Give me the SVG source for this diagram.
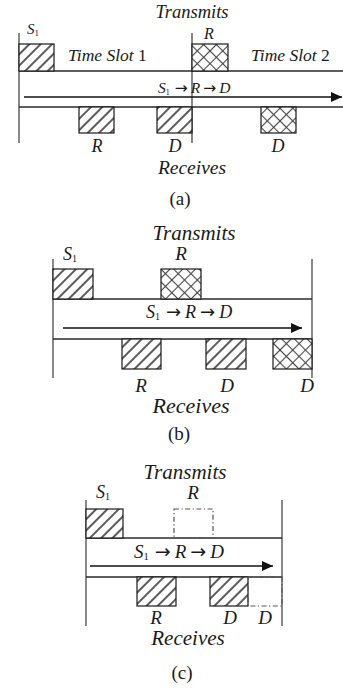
<svg xmlns="http://www.w3.org/2000/svg" width="343" height="688" viewBox="0 0 343 688">
  <style>
    .bg { fill: #ffffff; }
    .ln { stroke: #2a2a2a; stroke-width: 1.3; fill: none; }
    .vl { stroke: #3a3a3a; stroke-width: 1.2; fill: none; }
    .box { stroke: #1a1a1a; stroke-width: 1.2; }
    .hatch { fill: url(#hatch); }
    .cross { fill: url(#cross); }
    .dd { fill: none; stroke: #555; stroke-width: 1.2; stroke-dasharray: 5 2.5 1.2 2.5; }
    .it { font-family: "Liberation Serif", "Times New Roman", serif; font-style: italic; fill: #1a1a1a; }
    .rm { font-family: "Liberation Serif", "Times New Roman", serif; fill: #1a1a1a; }
    .sym { font-family: "DejaVu Sans", sans-serif; font-style: normal; }
    .arr { stroke: #111; stroke-width: 1.4; fill: none; }
  </style>
  <defs>
    <pattern id="hatch" patternUnits="userSpaceOnUse" width="8" height="8" patternTransform="rotate(45)">
      <rect width="8" height="8" fill="#ffffff"/>
      <line x1="4" y1="0" x2="4" y2="8" stroke="#333" stroke-width="1.6"/>
    </pattern>
    <pattern id="cross" patternUnits="userSpaceOnUse" width="9" height="9" patternTransform="rotate(45)">
      <rect width="9" height="9" fill="#ffffff"/>
      <line x1="4.5" y1="0" x2="4.5" y2="9" stroke="#444" stroke-width="1.1"/>
      <line x1="0" y1="4.5" x2="9" y2="4.5" stroke="#444" stroke-width="1.1"/>
    </pattern>
    <marker id="head" markerUnits="userSpaceOnUse" markerWidth="12" markerHeight="12" refX="11" refY="5" orient="auto">
      <path d="M0,0 L11,5 L0,10 Z" fill="#111"/>
    </marker>
  </defs>
  <rect class="bg" width="343" height="688"/>

  <!-- Panel (a): two time slots -->
  <g id="panel-a">
    <g id="a-frame">
      <line class="vl" x1="19" y1="33" x2="19" y2="143"/>
      <line class="vl" x1="192" y1="33" x2="192" y2="143"/>
      <line class="ln" x1="19" y1="71" x2="343" y2="71"/>
      <line class="ln" x1="19" y1="107" x2="343" y2="107"/>
    </g>
    <g id="a-s1-tx">
      <rect class="box hatch" x="19" y="44" width="35" height="27"/>
      <text class="it" x="27" y="34" font-size="15">S<tspan font-size="9" font-style="normal" dy="2">1</tspan></text>
    </g>
    <g id="a-r-tx">
      <rect class="box cross" x="192" y="44" width="36" height="27"/>
      <text class="it" x="209" y="39" font-size="16" text-anchor="middle">R</text>
    </g>
    <g id="a-r-rx">
      <rect class="box hatch" x="79" y="107" width="35" height="26"/>
      <text class="it" x="97" y="152" font-size="18" text-anchor="middle">R</text>
    </g>
    <g id="a-d-rx1">
      <rect class="box hatch" x="157" y="107" width="35" height="26"/>
      <text class="it" x="175" y="152" font-size="18" text-anchor="middle">D</text>
    </g>
    <g id="a-d-rx2">
      <rect class="box cross" x="261" y="107" width="35" height="26"/>
      <text class="it" x="278" y="152" font-size="18" text-anchor="middle">D</text>
    </g>
    <text class="it" x="192" y="18" font-size="18.5" text-anchor="middle">Transmits</text>
    <text class="it" x="68" y="61" font-size="17.5">Time Slot <tspan font-style="normal">1</tspan></text>
    <text class="it" x="251" y="61" font-size="17.5">Time Slot <tspan font-style="normal">2</tspan></text>
    <text class="it" x="158" y="93" font-size="15.5">S<tspan font-size="8" font-style="normal" dy="2">1</tspan><tspan class="sym" dy="-2" dx="5">→</tspan><tspan dx="3">R</tspan><tspan class="sym" dx="3">→</tspan><tspan dx="3">D</tspan></text>
    <text class="it" x="192" y="174" font-size="19.5" text-anchor="middle">Receives</text>
    <text class="rm" x="180" y="205" font-size="19" text-anchor="middle">(a)</text>
  </g>

  <!-- Panel (b) -->
  <g id="panel-b">
    <g id="b-frame">
      <line class="vl" x1="53" y1="259" x2="53" y2="378"/>
      <line class="vl" x1="312" y1="259" x2="312" y2="378"/>
      <line class="ln" x1="53" y1="299" x2="312" y2="299"/>
      <line class="ln" x1="53" y1="339" x2="312" y2="339"/>
    </g>
    <g id="b-s1-tx">
      <rect class="box hatch" x="53" y="269" width="40" height="30"/>
      <text class="it" x="63" y="260" font-size="18">S<tspan font-size="10" font-style="normal" dy="2">1</tspan></text>
    </g>
    <g id="b-r-tx">
      <rect class="box cross" x="161" y="269" width="40" height="30"/>
      <text class="it" x="181" y="260" font-size="19" text-anchor="middle">R</text>
    </g>
    <g id="b-r-rx">
      <rect class="box hatch" x="122" y="339" width="39" height="30"/>
      <text class="it" x="141" y="392" font-size="19" text-anchor="middle">R</text>
    </g>
    <g id="b-d-rx1">
      <rect class="box hatch" x="206" y="339" width="40" height="30"/>
      <text class="it" x="227" y="392" font-size="19" text-anchor="middle">D</text>
    </g>
    <g id="b-d-rx2">
      <rect class="box cross" x="273" y="339" width="39" height="30"/>
      <text class="it" x="307" y="392" font-size="19" text-anchor="middle">D</text>
    </g>
    <text class="it" x="194" y="240" font-size="21" text-anchor="middle">Transmits</text>
    <text class="it" x="146" y="318" font-size="18">S<tspan font-size="10" font-style="normal" dy="2">1</tspan><tspan class="sym" dy="-2" dx="6">→</tspan><tspan dx="4">R</tspan><tspan class="sym" dx="4">→</tspan><tspan dx="4">D</tspan></text>
    <text class="it" x="191" y="413" font-size="22" text-anchor="middle">Receives</text>
    <text class="rm" x="179" y="440" font-size="19" text-anchor="middle">(b)</text>
  </g>

  <!-- Panel (c) -->
  <g id="panel-c">
    <g id="c-frame">
      <line class="vl" x1="86" y1="500" x2="86" y2="626"/>
      <line class="vl" x1="282" y1="500" x2="282" y2="626"/>
      <line class="ln" x1="86" y1="538" x2="282" y2="538"/>
      <line class="ln" x1="86" y1="577" x2="282" y2="577"/>
    </g>
    <g id="c-s1-tx">
      <rect class="box hatch" x="86" y="509" width="37" height="29"/>
      <text class="it" x="96" y="498" font-size="18">S<tspan font-size="10" font-style="normal" dy="2">1</tspan></text>
    </g>
    <g id="c-r-tx">
      <rect class="dd" x="174" y="509" width="39" height="29"/>
      <text class="it" x="193" y="499" font-size="19" text-anchor="middle">R</text>
    </g>
    <g id="c-r-rx">
      <rect class="box hatch" x="137" y="577" width="39" height="29"/>
      <text class="it" x="156" y="624" font-size="19" text-anchor="middle">R</text>
    </g>
    <g id="c-d-rx1">
      <rect class="box hatch" x="210" y="577" width="38" height="29"/>
      <text class="it" x="230" y="624" font-size="19" text-anchor="middle">D</text>
    </g>
    <g id="c-d-rx2">
      <rect class="dd" x="248" y="577" width="34" height="29"/>
      <text class="it" x="265" y="624" font-size="19" text-anchor="middle">D</text>
    </g>
    <text class="it" x="185" y="479" font-size="21" text-anchor="middle">Transmits</text>
    <text class="it" x="134" y="558" font-size="19">S<tspan font-size="10.5" font-style="normal" dy="2">1</tspan><tspan class="sym" dy="-2" dx="6">→</tspan><tspan dx="4">R</tspan><tspan class="sym" dx="4">→</tspan><tspan dx="4">D</tspan></text>
    <text class="it" x="188" y="645" font-size="21" text-anchor="middle">Receives</text>
    <text class="rm" x="182" y="679" font-size="19" text-anchor="middle">(c)</text>
  </g>

  <!-- Flow arrows -->
  <g id="connectors">
    <line class="arr" x1="24" y1="97" x2="342" y2="97" marker-end="url(#head)"/>
    <line class="arr" x1="63" y1="328" x2="302" y2="328" marker-end="url(#head)"/>
    <line class="arr" x1="90" y1="566" x2="273" y2="566" marker-end="url(#head)"/>
  </g>
</svg>
